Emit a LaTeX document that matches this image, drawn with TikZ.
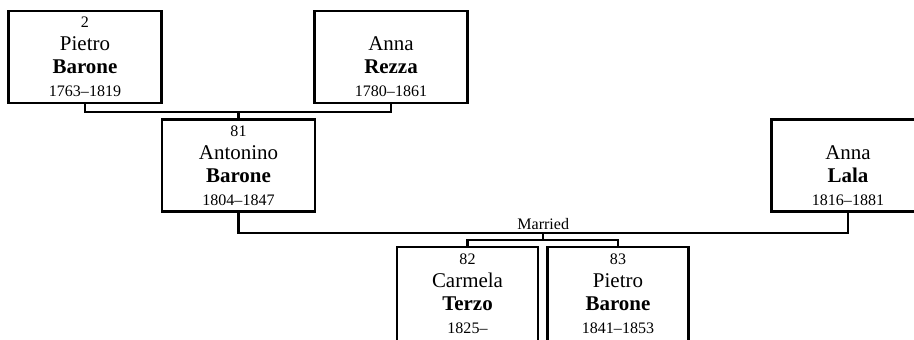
\documentclass[tikz,border=0pt]{standalone}
\usepackage{fontspec}
\setmainfont{Liberation Serif}
\usetikzlibrary{positioning}

\newcommand{\idn}[1]{{\fontsize{11.4}{13}\selectfont #1}}

\begin{document}
\begin{tikzpicture}[
  person/.style={draw,line width=1.7pt,minimum width=3.82cm,minimum height=2.3cm,
    align=center,inner sep=0pt,font=\fontsize{14.9}{16.3}\selectfont},
  kid/.style={person,minimum width=3.53cm,minimum height=2.35cm},
  link/.style={line width=1.7pt}]
  \useasboundingbox (0,0) rectangle (22.85,-8.475);
  \clip (0,0) rectangle (22.85,-8.475);
  % grandparents
  \node[person] (p2) at (2.125,-1.425) {\idn{2}\\Pietro\\\textbf{Barone}\\\idn{1763--1819}};
  \node[person] (rezza) at (9.775,-1.425) {\idn{\phantom{0}}\\Anna\\\textbf{Rezza}\\\idn{1780--1861}};
  % parents
  \node[person] (p81) at (5.9625,-4.1375) {\idn{81}\\Antonino\\\textbf{Barone}\\\idn{1804--1847}};
  \node[person] (lala) at (21.2,-4.1375) {\idn{\phantom{0}}\\Anna\\\textbf{Lala}\\\idn{1816--1881}};
  % children
  \node[kid] (p82) at (11.6875,-7.35) {\idn{82}\\Carmela\\\textbf{Terzo}\\\idn{1825--}};
  \node[kid] (p83) at (15.45,-7.35) {\idn{83}\\Pietro\\\textbf{Barone}\\\idn{1841--1853}};
  % lines
  \draw[link] (p2.south) -- ++(0,-0.2) coordinate (j1) -| (rezza.south);
  \draw[link] (p81.north) -- (p81.north |- j1);
  \draw[link] (p81.south) -- ++(0,-0.5) coordinate (j2) -| (lala.south);
  \path (j2) -- (j2 -| lala.south) coordinate[midway] (m);
  \node[anchor=base,inner sep=0pt,yshift=0.09cm] (married) at (m) {\idn{Married}};
  \draw[link] (m) -- ++(0,-0.175) coordinate (j3);
  \draw[link] (p82.north) |- (j3) -| (p83.north);
\end{tikzpicture}
\end{document}
